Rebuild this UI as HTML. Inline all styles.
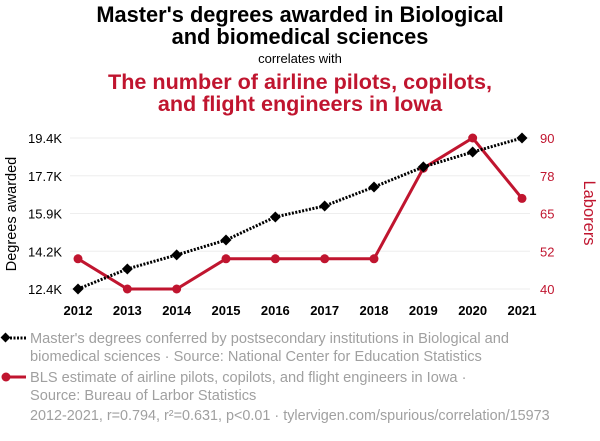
<!DOCTYPE html>
<html><head><meta charset="utf-8"><style>
body{margin:0;background:#fff;width:600px;height:436px;overflow:hidden;font-family:"Liberation Sans",sans-serif}
svg text{font-family:"Liberation Sans",sans-serif}
</style></head><body>
<svg id="chart" width="600" height="436">
<text x="300" y="22" text-anchor="middle" font-size="21.8" font-weight="bold" fill="#000">Master's degrees awarded in Biological</text>
<text x="300" y="44" text-anchor="middle" font-size="21.8" font-weight="bold" fill="#000">and biomedical sciences</text>
<text x="300" y="63" text-anchor="middle" font-size="13" fill="#000">correlates with</text>
<text x="300" y="89" text-anchor="middle" font-size="21.6" font-weight="bold" fill="#c0152f">The number of airline pilots, copilots,</text>
<text x="300" y="111" text-anchor="middle" font-size="21.6" font-weight="bold" fill="#c0152f">and flight engineers in Iowa</text>
<text transform="translate(16,214) rotate(-90)" text-anchor="middle" font-size="14.5" fill="#000">Degrees awarded</text>
<text transform="translate(584,213) rotate(90)" text-anchor="middle" font-size="16.5" fill="#c0152f">Laborers</text>
<g id="grid"></g><g id="axes"></g><g id="marks"></g>
<g>
<line x1="3" y1="338" x2="26" y2="338" stroke="#000" stroke-width="3" stroke-dasharray="2,1.5"/>
<rect x="2" y="334" width="7" height="7" transform="rotate(45 5.5 337.5)" fill="#000"/>
<text x="30" y="343" font-size="14.6" fill="#a0a0a0">Master's degrees conferred by postsecondary institutions in Biological and</text>
<text x="30" y="361" font-size="14.6" fill="#a0a0a0">biomedical sciences · Source: National Center for Education Statistics</text>
<line x1="3" y1="377" x2="26" y2="377" stroke="#c0152f" stroke-width="3"/>
<circle cx="6" cy="377" r="4.5" fill="#c0152f"/>
<text x="30" y="382" font-size="14.6" fill="#a0a0a0">BLS estimate of airline pilots, copilots, and flight engineers in Iowa ·</text>
<text x="30" y="400" font-size="14.6" fill="#a0a0a0">Source: Bureau of Larbor Statistics</text>
<text x="30" y="420" font-size="14.4" fill="#a0a0a0">2012-2021, r=0.794, r²=0.631, p&lt;0.01 · tylervigen.com/spurious/correlation/15973</text>
</g>
</svg>
<script>
const years=[2012,2013,2014,2015,2016,2017,2018,2019,2020,2021];
const degrees=[12.4,13.33,13.98,14.67,15.74,16.25,17.13,18.06,18.75,19.4];
const pilots=[50,40,40,50,50,50,50,80,90,70];
const leftTicks=["12.4K","14.2K","15.9K","17.7K","19.4K"];
const rightTicks=["40","52","65","78","90"];
const NS="http://www.w3.org/2000/svg";
const x=i=>78+i*(522-78)/(years.length-1);
const yL=v=>289-(v-12.4)/(19.4-12.4)*151;
const yR=v=>289-(v-40)/(90-40)*151;
function mk(t,a,p){const e=document.createElementNS(NS,t);for(const k in a)e.setAttribute(k,a[k]);p.appendChild(e);return e;}
const grid=document.getElementById('grid'),axes=document.getElementById('axes'),marks=document.getElementById('marks');
leftTicks.forEach((t,i)=>{const y=289-i*151/4;
mk('line',{x1:70,x2:530,y1:y,y2:y,stroke:'#eeeeee','stroke-width':1},grid);
const a=mk('text',{x:62,y:y+5,'text-anchor':'end','font-size':13,fill:'#000'},axes);a.textContent=t;


const b=mk('text',{x:540,y:y+5,'font-size':13,fill:'#c0152f'},axes);b.textContent=rightTicks[i];

});
years.forEach((yr,i)=>{const t=mk('text',{x:x(i),y:315,'text-anchor':'middle','font-size':13,'font-weight':'bold',fill:'#000'},axes);t.textContent=yr;

});
const rp=mk('polyline',{points:pilots.map((v,i)=>x(i)+','+yR(v)).join(' '),fill:'none',stroke:'#c0152f','stroke-width':3},marks);


pilots.forEach((v,i)=>{const c=mk('circle',{cx:x(i),cy:yR(v),r:4.5,fill:'#c0152f'},marks);

});
const bp=mk('polyline',{points:degrees.map((v,i)=>x(i)+','+yL(v)).join(' '),fill:'none',stroke:'#000','stroke-width':3,'stroke-dasharray':'2,1.5'},marks);


degrees.forEach((v,i)=>{const px=x(i),py=yL(v);const d=mk('polygon',{points:`${px},${py-5.5} ${px+5.5},${py} ${px},${py+5.5} ${px-5.5},${py}`,fill:'#000'},marks);

});
</script>
</body></html>
